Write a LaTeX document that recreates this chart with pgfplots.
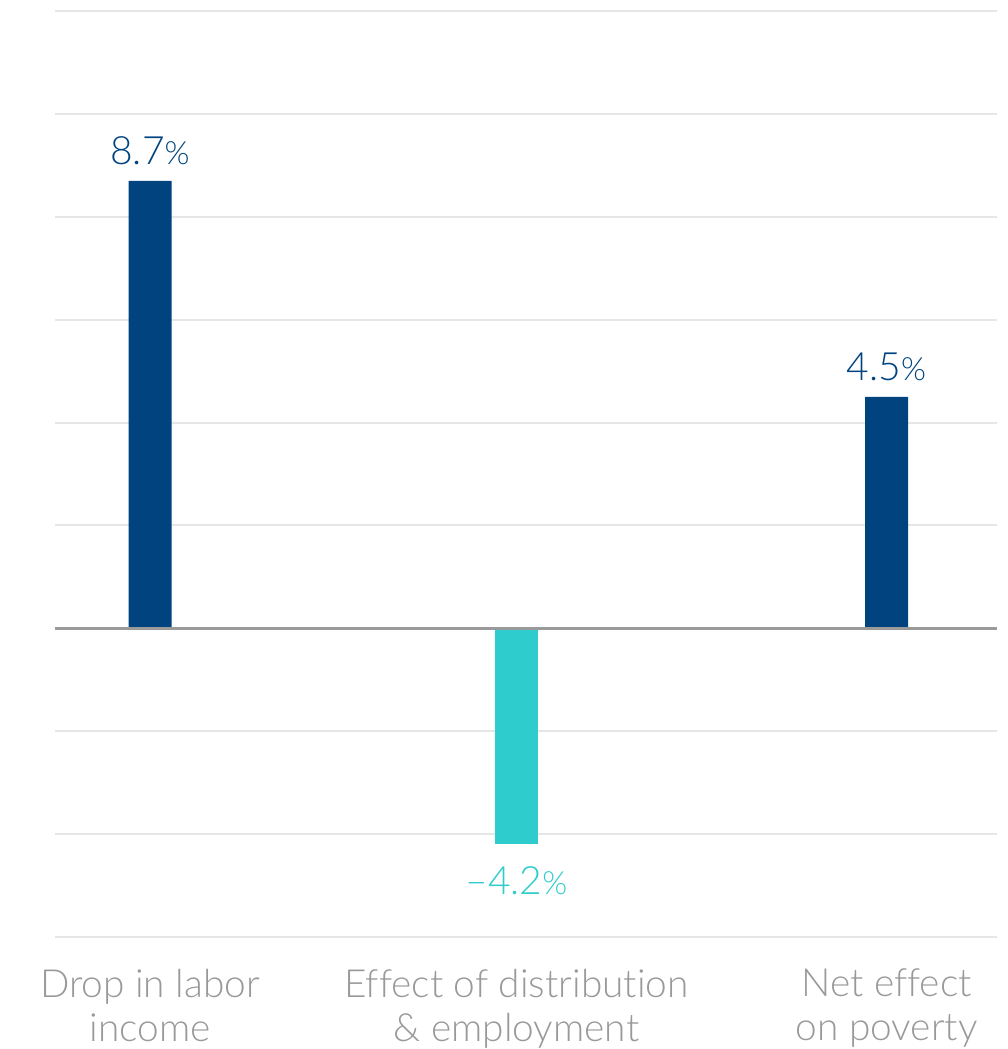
\documentclass[border=0pt]{standalone}
\usepackage{pgfplots}
\pgfplotsset{compat=1.18}
\usepackage{fontspec}
\setmainfont{Lato}[UprightFont=* Light, RawFeature=-liga]
\definecolor{barblue}{HTML}{00437F}
\definecolor{barteal}{HTML}{2ECCCC}
\definecolor{gridgray}{HTML}{E6E6E6}
\definecolor{zerogray}{HTML}{9A9A9A}
\definecolor{labelgray}{HTML}{999999}
\begin{document}
\begin{tikzpicture}
\begin{axis}[
  name=ax,
  scale only axis,
  width=471pt, height=463pt,
  xmin=-0.258, xmax=2.30,
  ymin=-6, ymax=12,
  axis line style={draw=none},
  ytick={-6,-4,...,12},
  yticklabels={},
  major tick length=0pt,
  ymajorgrids,
  grid style={gridgray, line width=1pt},
  xtick={0,0.995,2},
  xticklabels={Drop in labor\\income, Effect of distribution\\\& employment, Net effect\\on poverty},
  xticklabel style={align=center, text=labelgray, font=\fontsize{19.4}{22}\selectfont, yshift=-12.5pt},
  ybar, bar width=21.5pt, bar shift=0pt,
  point meta=explicit symbolic,
  nodes near coords={\pgfplotspointmeta{\fontsize{16}{16}\selectfont\%}},
  every node near coord/.append style={font=\fontsize{19.5}{20}\selectfont, inner sep=0pt},
  clip=false,
]
\addplot[fill=barblue, draw=none, every node near coord/.append style={text=barblue, anchor=south, yshift=8pt}]
  coordinates {(0,8.7)[8.7] (2,4.5)[4.5]};
\addplot[fill=barteal, draw=none, every node near coord/.append style={text=barteal, anchor=north, yshift=-11pt}]
  coordinates {(0.995,-4.2)[–4.2]};
\draw[zerogray, line width=1.5pt] (axis cs:-0.258,0) -- (axis cs:2.30,0);
\end{axis}
\pgfresetboundingbox
\path[use as bounding box] ([shift={(-27.5pt,-56pt)}]ax.south west) rectangle ([shift={(5pt,5.5pt)}]ax.north east);
\end{tikzpicture}
\end{document}
